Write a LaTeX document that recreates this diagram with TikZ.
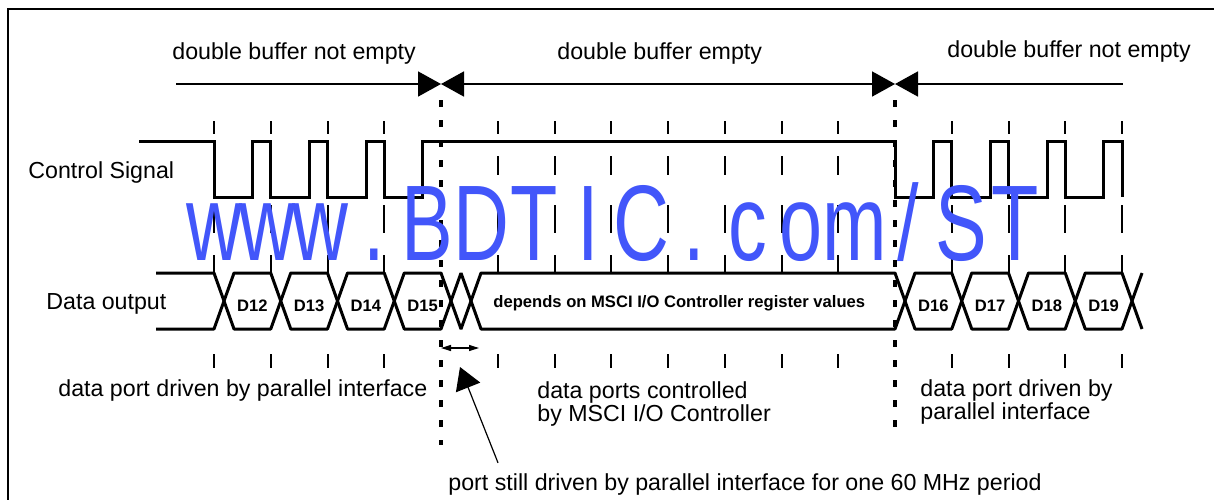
\documentclass[tikz,border=0pt]{standalone}
\usepackage{fontspec}
\setmainfont{Liberation Sans}
\usepackage{graphicx}
\usetikzlibrary{arrows.meta}
\definecolor{wmblue}{HTML}{4256FA}
\newcommand{\wmc}[1]{\makebox[26.7pt][c]{\scalebox{0.72}[1]{#1}}}
\tikzset{bt/.tip={Triangle[length=11.5pt, width=12.5pt]},
  st/.tip={Triangle[length=5pt, width=3pt]}}

\begin{document}
\begin{tikzpicture}[x=0.5pt, y=-0.5pt,
  txt/.style={font=\fontsize{11.6}{11.5}\selectfont, inner sep=0pt, anchor=base west, align=left},
  dl/.style={font=\fontsize{8.3}{10}\selectfont\bfseries, inner sep=0pt, anchor=base},
  sig/.style={line width=1.5pt, line join=miter},
  bus/.style={line width=1.5pt, line join=bevel},
  clk/.style={line width=1pt, dash pattern=on 6.5pt off 11pt on 9.5pt off 15pt on 14pt off 11pt on 9pt off 40.5pt on 7pt},
  sep/.style={line width=1.75pt, dash pattern=on 3.5pt off 6.5pt},
  buf/.style={line width=0.85pt}]
  \useasboundingbox (0,0) rectangle (1214,499);
  \draw[line width=1pt] (8,530) -- (8,9) -- (1240,9);
  \node[txt] (lbuf) at (172,59) {double buffer not empty};
  \node[txt] (ebuf) at (557,59) {double buffer empty};
  \node[txt] (rbuf) at (947,57) {double buffer not empty};
  \coordinate (bl) at (176,84); \coordinate (b1) at (441,84);
  \coordinate (b2) at (895,84); \coordinate (br) at (1123,84);
  \draw[buf, -bt] (bl) -- (b1);
  \draw[buf, bt-bt] (b1) -- (b2);
  \draw[buf, bt-] (b2) -- (br);
  \foreach \i in {0,1,2,3,5,6,7,8,9,10,11,13,14,15,16}
    \draw[clk] ({214+56.75*\i},121) -- ({214+56.75*\i},368);
  \draw[sep] (441,100) -- (441,445);
  \draw[sep] (895,100) -- (895,432);
  \node[txt] (ctl) at (28,178) {Control Signal};
  \draw[sig] (139,141) foreach \i in {0,1,2,3,12,13,14,15} {-- ({214+56.75*\i},141) -- ++(0,56) -- ++(38.5,0) -- ++(0,-56)} -- (1122,141) -- (1122,197);
  \node[txt] (dout) at (46,309) {Data output};
  \draw[bus] (156,273) -- (214,273) -- (224,301) -- (214,329) -- (156,329);
  \foreach \a/\b in {214/270.75, 270.75/327.5, 327.5/384.25, 384.25/441, 441/461, 461/895, 895/951.75, 951.75/1008.5, 1008.5/1065.25, 1065.25/1122}
    \draw[bus] ({\a+10},301) -- ({\a+20},273) -- (\b,273) -- ({\b+10},301) -- (\b,329) -- ({\a+20},329) -- cycle;
  \draw[bus] (1132,301) -- (1142,273) (1132,301) -- (1142,329);
  \foreach \n [count=\i from 0] in {12,13,14,15}
    \node[dl] (d\n) at ({252.4+56.75*\i},311) {D\n};
  \foreach \n [count=\i from 0] in {16,17,18,19}
    \node[dl] (d\n) at ({933.4+56.75*\i},311) {D\n};
  \node[dl, anchor=base west] (dep) at (493,307) {depends on MSCI I/O Controller register values};
  \coordinate (s1) at (441,348); \coordinate (s2) at (479,348);
  \draw[line width=0.6pt, st-st] (s1) -- (s2);
  \node[txt] (lport) at (58,396) {data port driven by parallel interface};
  \node[txt] (mport) at (537,421) {data ports controlled\\by MSCI I/O Controller};
  \node[txt] (rport) at (920,419) {data port driven by\\parallel interface};
  \node[txt] (note) at (448,490) {port still driven by parallel interface for one 60 MHz period};
  \coordinate (hold) at (460,367);
  \draw[line width=0.6pt, -{Triangle[length=11pt, width=13pt]}] ([xshift=25pt, yshift=5pt]note.north west) -- (hold);
  \node[font=\fontsize{53.75}{60}\selectfont, text=wmblue, inner sep=0pt, anchor=base west] (wm) at (187,260)
    {\wmc{w}\wmc{w}\wmc{w}\wmc{.}\wmc{B}\wmc{D}\wmc{T}\wmc{I}\wmc{C}\wmc{.}\wmc{c}\wmc{o}\wmc{m}\wmc{/}\wmc{S}\wmc{T}};
\end{tikzpicture}
\end{document}
